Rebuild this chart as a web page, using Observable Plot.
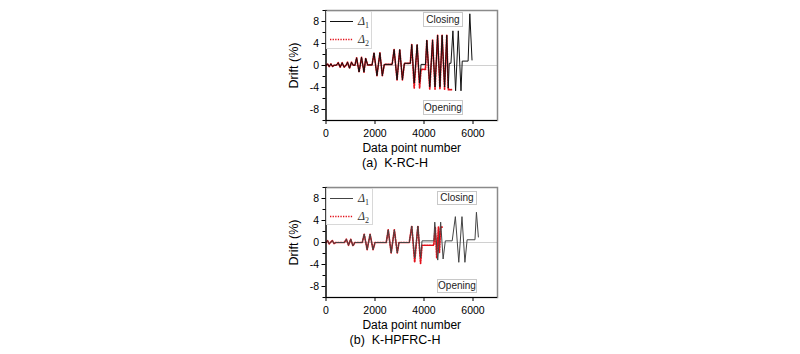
<!DOCTYPE html>
<html><head><meta charset="utf-8">
<script src="https://cdn.jsdelivr.net/npm/d3@7"></script>
<script src="https://cdn.jsdelivr.net/npm/@observablehq/plot@0.6"></script>
<style>
body{margin:0;background:#fff;font-family:"Liberation Sans",Arial,sans-serif;}
.panel{position:absolute;left:0;width:800px;height:177px;}
.cap{position:absolute;left:0;width:790px;text-align:center;top:155px;font-size:12.5px;line-height:16px;white-space:pre;}
.box{position:absolute;border:1px solid #c8c8c8;background:#fff;font-size:10px;text-align:center;box-sizing:border-box;color:#222;}
.leg{position:absolute;border:1px solid #d8d8d8;background:#fff;box-sizing:border-box;}
.leg .lab{position:absolute;left:31px;font-family:"Liberation Serif","Times New Roman",serif;font-style:italic;font-size:12px;line-height:14px;color:#333;}
.leg sub{font-style:normal;font-size:8px;}
</style></head>
<body>
<div id="root"></div>
<script>
const xTicks = [0, 2000, 4000, 6000];
const yTicks = [-8, -4, 0, 4, 8];
const yMinor = [-10, -6, -2, 2, 6, 10];
const captions = ["(a)  K-RC-H", "(b)  K-HPFRC-H"];

// (a) K-RC-H, Δ1
const rcX1 = [0,60,130,200,270,330,420,500,580,660,740,820,880,960,1040,1110,1180,1250,1350,1450,1550,1620,1700,1880,1960,2080,2200,2300,2380,2700,2780,2900,3010,3120,3200,3440,3500,3600,3720,3820,3880,4060,4115,4235,4350,4450,4555,4650,4740,4840,4930,4990,5030,5100,5180,5290,5400,5510,5560,5800,5870,5960];
const rcD1 = [0,0.3,-0.2,0.3,-0.2,0.05,0.05,0.5,-0.3,0.5,-0.3,0.05,0.6,-0.5,0.6,0.05,0.05,1.4,-1.2,1.5,-1.2,1.3,0.1,0.1,2.3,-1.85,2.3,-1.85,0.2,0.2,2.9,-2.6,2.9,-2.6,0.4,0.4,3.8,-3.2,3.8,-3.2,0.2,0.2,4.6,-3.9,4.6,-3.9,5.5,-3.9,5.5,-3.9,5.5,-4.1,0.4,0.4,6.3,-4.6,6.3,-4.6,0.8,0.8,9.4,1.0];
// (a) K-RC-H, Δ2
const rcX2 = [0,60,130,200,270,330,420,500,580,660,740,820,880,960,1040,1110,1180,1250,1350,1450,1550,1620,1700,1880,1960,2080,2200,2300,2380,2700,2780,2900,3010,3120,3200,3440,3500,3600,3720,3820,3880,4060,4115,4235,4350,4450,4555,4650,4740,4840,4930,4990,5120];
const rcD2 = [0,0.3,-0.2,0.3,-0.2,0.05,0.05,0.5,-0.3,0.5,-0.3,0.05,0.6,-0.5,0.6,0.05,0.05,1.4,-1.2,1.5,-1.2,1.3,0.1,0.1,2.3,-1.85,2.3,-1.85,0.2,0.2,2.9,-2.6,2.9,-2.6,0.4,0.4,3.8,-4.1,3.8,-4.1,-0.7,-0.7,4.6,-4.3,4.6,-4.3,5.5,-4.3,5.5,-4.3,5.5,-4.4,-4.4];

// (b) K-HPFRC-H, Δ1
const hpX1 = [0,60,130,200,260,330,400,750,830,920,1010,1100,1180,1480,1560,1680,1800,1920,2000,2460,2540,2660,2790,2910,2980,3400,3500,3620,3750,3860,3920,4400,4440,4560,4680,4780,4870,5150,5280,5420,5550,5670,5760,6080,6140,6220];
const hpD1 = [0,0.35,-0.25,0.1,0.35,-0.2,0,0,0.6,-0.5,0.6,-0.6,0,0,1.5,-1.3,1.5,-1.3,0,0,2.3,-1.9,2.3,-1.9,0,0,3.0,-2.8,3.0,-2.8,0.3,0.3,3.7,-3.2,3.7,-3.0,0.3,0.3,4.7,-3.6,4.7,-3.6,0.5,0.5,5.5,1.0];
// (b) K-HPFRC-H, Δ2
const hpX2 = [0,60,130,200,260,330,400,750,830,920,1010,1100,1180,1480,1560,1680,1800,1920,2000,2460,2540,2660,2790,2910,2980,3400,3500,3620,3750,3860,3920,4400,4460,4520,4590,4630,4680,4740];
const hpD2 = [0,0.35,-0.25,0.1,0.35,-0.2,0,0,0.6,-0.5,0.6,-0.6,0,0,1.5,-1.3,1.5,-1.3,0,0,2.3,-1.9,2.3,-1.9,0,0,3.0,-3.6,3.0,-3.8,-0.5,-0.5,2.8,-2.8,2.8,-1.8,2.8,2.8];

const panels = [
  {x1: rcX1, d1: rcD1, x2: rcX2, d2: rcD2, c1: "#111", cap: captions[0], top: 0, closing: [423, 12, 40, 15], opening: [423, 100, 40, 15], leg: [326, 11, 46, 38]},
  {x1: hpX1, d1: hpD1, x2: hpX2, d2: hpD2, c1: "#444", cap: captions[1], top: 177, closing: [437, 14, 40, 14], opening: [437, 102, 40, 14], leg: [326, 11, 47, 37]}
];

const root = document.getElementById("root");
for (const p of panels) {
  const s1 = p.x1.map((x, i) => ({x, y: p.d1[i]}));
  const s2 = p.x2.map((x, i) => ({x, y: p.d2[i]}));
  const chart = Plot.plot({
    width: 800, height: 156,
    marginLeft: 325.5, marginRight: 303, marginTop: 10, marginBottom: 36,
    style: {fontFamily: "'Liberation Sans', Arial, sans-serif", fontSize: "10.5px", background: "white", color: "black"},
    x: {domain: [0, 7000]},
    y: {domain: [-10, 10]},
    marks: [
      Plot.ruleY([0], {stroke: "#d0d0d0"}),
      Plot.frame({stroke: "#8a8a8a", strokeWidth: 1.5}),
      Plot.line(s2, {x: "x", y: "y", stroke: "#e3101a", strokeWidth: 1.7, strokeDasharray: "1.3,1.3"}),
      Plot.line(s1, {x: "x", y: "y", stroke: p.c1, strokeWidth: 1}),
      Plot.axisX({ticks: [], label: "Data point number", labelAnchor: "center", labelArrow: "none", labelOffset: 31, fontSize: 12}),
      Plot.axisX({ticks: xTicks, tickSize: 4, tickPadding: 5, tickFormat: d => String(d), label: null, fontSize: 10.5}),
      Plot.axisY({ticks: yTicks, tickSize: 4, tickPadding: 3, tickFormat: d => String(d), label: null, fontSize: 10.5}),
      Plot.axisY({ticks: [], label: "Drift (%)", labelAnchor: "center", labelArrow: "none", labelOffset: 37, fontSize: 12.5}),
      Plot.axisY({ticks: yMinor, tickSize: 3, tickFormat: () => "", label: null}),
      Plot.ruleX([0], {stroke: "black", strokeWidth: 1.2}),
      Plot.ruleY([-10], {stroke: "black", strokeWidth: 1.2})
    ]
  });
  const div = document.createElement("div");
  div.className = "panel";
  div.style.top = p.top + "px";
  div.appendChild(chart);
  const cap = document.createElement("div");
  cap.className = "cap"; cap.textContent = p.cap;
  div.appendChild(cap);
  for (const [k, txt] of [["closing", "Closing"], ["opening", "Opening"]]) {
    const b = document.createElement("div");
    b.className = "box";
    const [l, t, w, h] = p[k];
    Object.assign(b.style, {left: l + "px", top: t + "px", width: w + "px", height: h + "px", lineHeight: (h - 2) + "px"});
    b.textContent = txt;
    div.appendChild(b);
  }
  const [ll, lt, lw, lh] = p.leg;
  const leg = document.createElement("div");
  leg.className = "leg";
  Object.assign(leg.style, {left: ll + "px", top: lt + "px", width: lw + "px", height: lh + "px"});
  leg.innerHTML = `
    <svg width="26" height="36" style="position:absolute;left:2px;top:0">
      <line x1="1" x2="24" y1="9.5" y2="9.5" stroke="${p.c1}" stroke-width="1"/>
      <line x1="1" x2="24" y1="27.5" y2="27.5" stroke="#e3101a" stroke-width="1.7" stroke-dasharray="1.3,1.3"/>
    </svg>
    <span class="lab" style="top:2px">&Delta;<sub>1</sub></span>
    <span class="lab" style="top:20px">&Delta;<sub>2</sub></span>`;
  div.appendChild(leg);
  root.appendChild(div);
}
</script>
</body></html>
